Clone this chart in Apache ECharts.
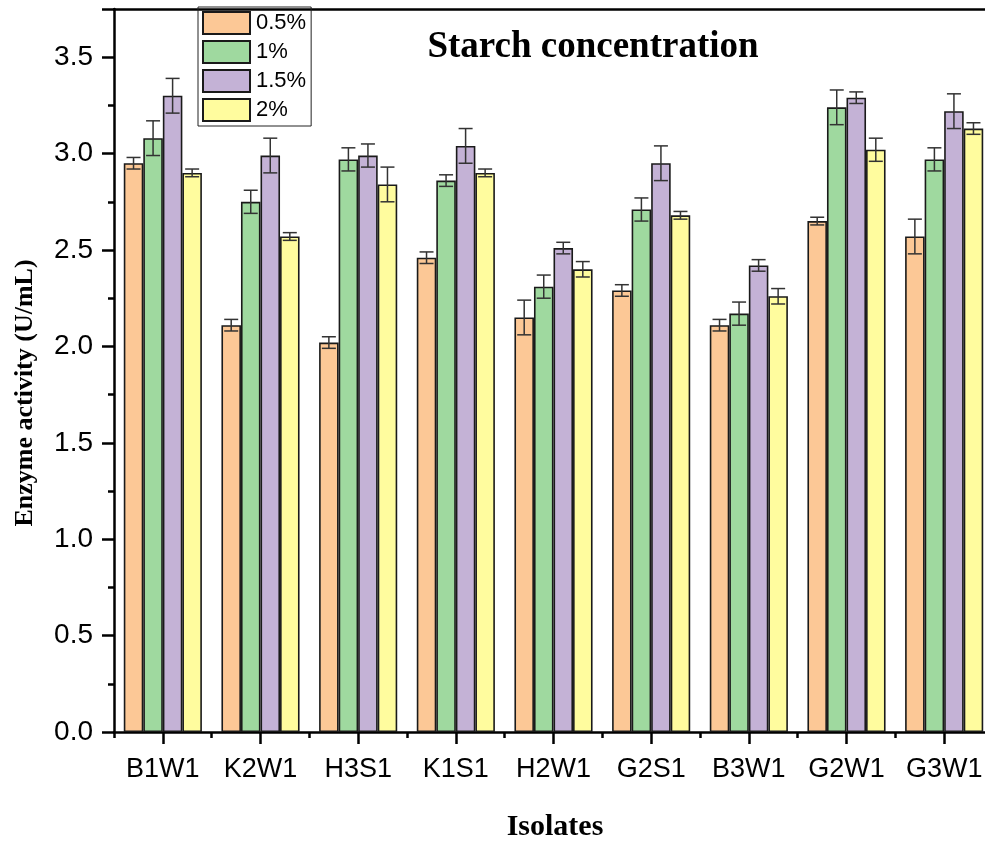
<!DOCTYPE html>
<html>
<head>
<meta charset="utf-8">
<script src="https://cdn.jsdelivr.net/npm/echarts@6/dist/echarts.min.js"></script>
<style>
html,body{margin:0;padding:0;background:#fff;}
#chart{width:985px;height:842px;}
</style>
</head>
<body>
<div id="chart"></div>
<script>
const categories = ['B1W1','K2W1','H3S1','K1S1','H2W1','G2S1','B3W1','G2W1','G3W1'];
const seriesNames = ['0.5%','1%','1.5%','2%'];
const vals05 = [2.95, 2.11, 2.02, 2.46, 2.15, 2.29, 2.11, 2.65, 2.57];
const vals1  = [3.08, 2.75, 2.97, 2.86, 2.31, 2.71, 2.17, 3.24, 2.97];
const vals15 = [3.30, 2.99, 2.99, 3.04, 2.51, 2.95, 2.42, 3.29, 3.22];
const vals2  = [2.90, 2.57, 2.84, 2.90, 2.40, 2.68, 2.26, 3.02, 3.13];
const err05 = [0.03, 0.03, 0.03, 0.03, 0.09, 0.03, 0.03, 0.02, 0.09];
const err1  = [0.09, 0.06, 0.06, 0.03, 0.06, 0.06, 0.06, 0.09, 0.06];
const err15 = [0.09, 0.09, 0.06, 0.09, 0.03, 0.09, 0.03, 0.03, 0.09];
const err2  = [0.02, 0.02, 0.09, 0.02, 0.04, 0.02, 0.04, 0.06, 0.03];
const yTicks = [0, 0.5, 1.0, 1.5, 2.0, 2.5, 3.0, 3.5];

const colors = ['#FCC896', '#9FD99F', '#C4B2D6', '#FFFC9E'];
const allVals = [vals05, vals1, vals15, vals2];
const allErr = [err05, err1, err15, err2];

const chart = echarts.init(document.getElementById('chart'));
const sansFont = '"Liberation Sans", Arial, sans-serif';
const serifFont = '"Liberation Serif", "Times New Roman", serif';

const barSeries = seriesNames.map((n, i) => ({
  name: n,
  type: 'bar',
  xAxisIndex: 0,
  yAxisIndex: 0,
  data: allVals[i],
  barGap: '0%',
  barCategoryGap: '20%',
  itemStyle: { color: colors[i], borderColor: '#1a1a1a', borderWidth: 1.6 },
  z: 2
}));

const errSeries = seriesNames.map((n, s) => ({
  name: 'err' + n,
  type: 'custom',
  xAxisIndex: 0,
  yAxisIndex: 0,
  encode: { x: 0, y: 1 },
  data: categories.map((c, k) => [k, allVals[s][k], allErr[s][k]]),
  z: 5,
  silent: true,
  renderItem: function (params, api) {
    const idx = api.value(0), v = api.value(1), e = api.value(2);
    const c = api.coord([idx, v]);
    const bandW = api.size([1, 0])[0];
    const bw = bandW * 0.8 / 4;
    const x = c[0] + (s - 1.5) * bw;
    const yt = api.coord([idx, v + e])[1];
    const yb = api.coord([idx, v - e])[1];
    const hw = 7;
    const st = { stroke: '#333', lineWidth: 1.5 };
    return {
      type: 'group',
      children: [
        { type: 'line', shape: { x1: x, y1: yt, x2: x, y2: yb }, style: st },
        { type: 'line', shape: { x1: x - hw, y1: yt, x2: x + hw, y2: yt }, style: st },
        { type: 'line', shape: { x1: x - hw, y1: yb, x2: x + hw, y2: yb }, style: st }
      ]
    };
  }
}));

const option = {
  backgroundColor: '#fff',
  animation: false,
  grid: { left: 114, top: 9, width: 879, bottom: 110, containLabel: false, outerBoundsMode: 'none' },
  legend: {
    data: seriesNames,
    orient: 'vertical',
    left: 198,
    top: 7,
    itemWidth: 47,
    itemHeight: 22,
    itemGap: 5,
    padding: [4, 5, 4, 4],
    borderColor: '#222',
    borderWidth: 1,
    icon: 'rect',
    textStyle: { fontSize: 22, fontFamily: sansFont, color: '#000', padding: [0, 0, 0, 1] }
  },
  xAxis: [
    {
      type: 'category',
      data: categories,
      position: 'bottom',
      axisLine: { show: true, lineStyle: { color: '#000', width: 2.5 } },
      axisTick: { show: true, alignWithLabel: true, interval: 0, length: 12, lineStyle: { color: '#000', width: 2.5 } },
      axisLabel: { interval: 0, fontSize: 27, fontFamily: sansFont, color: '#000', margin: 24 },
      splitLine: { show: false }
    },
    {
      type: 'category',
      data: categories,
      position: 'bottom',
      axisLine: { show: false },
      axisTick: { show: true, alignWithLabel: false, interval: 0, length: 6, lineStyle: { color: '#000', width: 2.5 } },
      axisLabel: { show: false },
      splitLine: { show: false }
    },
    {
      type: 'category',
      data: categories,
      position: 'top',
      axisLine: { show: true, lineStyle: { color: '#000', width: 2.5 } },
      axisTick: { show: false },
      axisLabel: { show: false },
      splitLine: { show: false }
    }
  ],
  yAxis: [
    {
      type: 'value',
      min: 0,
      max: 3.75,
      interval: 0.5,
      axisLine: { show: true, lineStyle: { color: '#000', width: 2.5 } },
      axisTick: { show: true, length: 12, lineStyle: { color: '#000', width: 2.5 } },
      minorTick: { show: true, splitNumber: 2, length: 6, lineStyle: { color: '#000', width: 2.5 } },
      axisLabel: {
        fontSize: 28, fontFamily: sansFont, color: '#000', margin: 21,
        formatter: function (v) { return yTicks.indexOf(v) >= 0 ? v.toFixed(1) : ''; }
      },
      splitLine: { show: false }
    }
  ],
  graphic: [
    {
      type: 'text', x: 593, y: 47,
      style: { text: 'Starch concentration', font: 'bold 37px ' + serifFont, fill: '#000', align: 'center', verticalAlign: 'middle' }
    },
    {
      type: 'text', x: 555, y: 827,
      style: { text: 'Isolates', font: 'bold 30px ' + serifFont, fill: '#000', align: 'center', verticalAlign: 'middle' }
    },
    {
      type: 'text', x: 25, y: 393, rotation: Math.PI / 2,
      style: { text: 'Enzyme activity (U/mL)', font: 'bold 26px ' + serifFont, fill: '#000', align: 'center', verticalAlign: 'middle' }
    }
  ],
  series: barSeries.concat(errSeries)
};
chart.setOption(option);
</script>
</body>
</html>
